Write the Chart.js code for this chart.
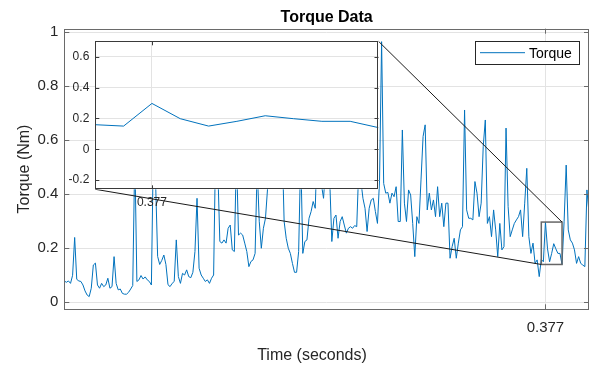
<!DOCTYPE html>
<html>
<head>
<meta charset="utf-8">
<script src="https://cdn.jsdelivr.net/npm/chart.js@4.4.0/dist/chart.umd.min.js"></script>
<style>
  body { margin: 0; background: #fff; }
  #wrap { position: relative; width: 590px; height: 369px; }
  #main { position: absolute; left: 0; top: 0; }
  #inset { position: absolute; left: 56px; top: 36px; }
</style>
</head>
<body>
<div id="wrap">
  <canvas id="main" width="590" height="369"></canvas>
  <canvas id="inset" width="326" height="175"></canvas>
</div>
<script>
// torque samples (Nm)
const torque = [
  0.079, 0.074, 0.079, 0.070, 0.100, 0.240, 0.085, 0.079, 0.077, 0.064,
  0.042, 0.027, 0.021, 0.052, 0.138, 0.145, 0.064, 0.052, 0.070, 0.058,
  0.064, 0.089, 0.052, 0.058, 0.169, 0.070, 0.046, 0.049, 0.033, 0.030,
  0.030, 0.037, 0.049, 0.062, 0.550, 0.077, 0.083, 0.099, 0.086, 0.094,
  0.083, 0.077, 0.064, 0.600, 0.450, 0.170, 0.140, 0.155, 0.175, 0.140,
  0.065, 0.058, 0.070, 0.077, 0.231, 0.095, 0.070, 0.107, 0.101, 0.120,
  0.095, 0.091, 0.111, 0.188, 0.385, 0.126, 0.101, 0.089, 0.077, 0.083,
  0.070, 0.089, 0.101, 0.600, 0.500, 0.225, 0.219, 0.231, 0.219, 0.274,
  0.286, 0.194, 0.188, 0.550, 0.249, 0.256, 0.249, 0.219, 0.188, 0.132,
  0.151, 0.157, 0.181, 0.500, 0.300, 0.200, 0.274, 0.311, 0.420, 0.440,
  0.450, 0.500, 0.550, 0.500, 0.450, 0.600, 0.299, 0.237, 0.200, 0.181,
  0.144, 0.111, 0.111, 0.188, 0.550, 0.181, 0.225, 0.231, 0.311, 0.336,
  0.373, 0.348, 0.600, 0.450, 0.435, 0.385, 0.500, 0.550, 0.450, 0.225,
  0.311, 0.323, 0.237, 0.299, 0.317, 0.286, 0.256, 0.274, 0.280, 0.274,
  0.284, 0.280, 0.500, 0.450, 0.385, 0.348, 0.262, 0.348, 0.379, 0.385,
  0.336, 0.292, 0.450, 0.965, 0.440, 0.404, 0.407, 0.367, 0.404, 0.391,
  0.428, 0.299, 0.299, 0.638, 0.367, 0.299, 0.416, 0.397, 0.292, 0.169,
  0.317, 0.292, 0.453, 0.614, 0.657, 0.342, 0.404, 0.342, 0.379, 0.317,
  0.428, 0.317, 0.367, 0.280, 0.367, 0.367, 0.163, 0.206, 0.237, 0.163,
  0.219, 0.268, 0.280, 0.712, 0.342, 0.311, 0.311, 0.305, 0.447, 0.404,
  0.317, 0.367, 0.577, 0.675, 0.292, 0.317, 0.243, 0.342, 0.268, 0.169,
  0.292, 0.194, 0.206, 0.645, 0.354, 0.243, 0.268, 0.292, 0.305, 0.317,
  0.342, 0.243, 0.367, 0.496, 0.243, 0.181, 0.219, 0.144, 0.157, 0.095,
  0.159, 0.150, 0.297, 0.198, 0.150, 0.181, 0.217, 0.198, 0.181, 0.181,
  0.140, 0.300, 0.508, 0.268, 0.231, 0.219, 0.194, 0.144, 0.169, 0.144,
  0.138, 0.132, 0.416, 0.330
];
const T_START = 0.145;   // s
const T_STEP = 0.001;    // s per sample
const zoomFrom = 230;    // first sample in the zoomed window
const zoomTo = 240;      // last sample in the zoomed window
const xTicks = [0.377];
const mainYTicks = [0, 0.2, 0.4, 0.6, 0.8, 1];
const insetYTicks = [-0.2, 0, 0.2, 0.4, 0.6];
const seriesName = "Torque";
const xLabel = "Time (seconds)";

const FONT = "'Liberation Sans', Arial, sans-serif";
const INK = "#262626";
const LINE = "#0072BD";
const GRID = "#e3e3e3";

const times = torque.map((_, i) => +(T_START + i * T_STEP).toFixed(3));
const points = torque.map((v, i) => ({ x: times[i], y: v }));
const zoomPoints = points.slice(zoomFrom, zoomTo + 1);
const zoomLo = Math.min(...zoomPoints.map(p => p.y));
const zoomHi = Math.max(...zoomPoints.map(p => p.y));

const fmtY = v => String(+v.toFixed(1));
const fixTicks = list => s => { s.ticks = list.map(v => ({ value: v })); };
// keep the plot box where it is, no extra room for edge labels
const fixWidth = w => s => { s.width = w; s.paddingTop = 0; s.paddingBottom = 0; };
const fixHeight = h => s => { s.height = h; s.paddingLeft = 0; s.paddingRight = 0; };

function boxAndTicks(chart, len, color) {
  const { ctx, chartArea: a, scales: { x, y } } = chart;
  ctx.save();
  ctx.strokeStyle = color;
  ctx.lineWidth = 1;
  ctx.beginPath();
  y.ticks.forEach(t => {
    const py = Math.round(y.getPixelForValue(t.value)) + 0.5;
    ctx.moveTo(a.left, py); ctx.lineTo(a.left + len, py);
    ctx.moveTo(a.right, py); ctx.lineTo(a.right - len, py);
  });
  x.ticks.forEach(t => {
    const px = Math.round(x.getPixelForValue(t.value)) + 0.5;
    ctx.moveTo(px, a.bottom); ctx.lineTo(px, a.bottom - len);
    ctx.moveTo(px, a.top); ctx.lineTo(px, a.top + len);
  });
  ctx.stroke();
  ctx.strokeRect(Math.round(a.left) + 0.5, Math.round(a.top) + 0.5,
    Math.round(a.right - a.left) - 1, Math.round(a.bottom - a.top) - 1);
  ctx.restore();
}

// ---- inset (zoomed window) ----
const insetCanvas = document.getElementById("inset");
const inset = new Chart(insetCanvas, {
  type: "line",
  data: { datasets: [{ data: zoomPoints, borderColor: LINE, borderWidth: 1, pointRadius: 0, tension: 0 }] },
  options: {
    responsive: false,
    animation: false,
    layout: { padding: { left: 0, top: 5.3, right: 3.5, bottom: 0 } },
    plugins: { legend: { display: false }, tooltip: { enabled: false } },
    scales: {
      x: {
        type: "linear", min: times[zoomFrom], max: times[zoomTo],
        afterBuildTicks: fixTicks(xTicks),
        afterFit: fixHeight(21.7),
        grid: { color: GRID, drawTicks: false },
        border: { display: false },
        ticks: { color: INK, padding: 6, font: { family: FONT, size: 12 }, callback: v => v.toFixed(3), maxRotation: 0 }
      },
      y: {
        min: -0.26, max: 0.70,
        afterBuildTicks: fixTicks(insetYTicks),
        afterFit: fixWidth(39.3),
        grid: { color: GRID, drawTicks: false },
        border: { display: false },
        ticks: { color: INK, padding: 6, font: { family: FONT, size: 12 }, callback: fmtY }
      }
    }
  },
  plugins: [{
    id: "insetFrame",
    beforeDraw(chart) {
      const { ctx, chartArea: a } = chart;
      ctx.save();
      ctx.fillStyle = "#fff";
      ctx.fillRect(a.left, a.top, a.right - a.left, a.bottom - a.top);
      ctx.restore();
    },
    afterDraw(chart) { boxAndTicks(chart, 4, "#3a3a3a"); }
  }]
});

// ---- main chart ----
const main = new Chart(document.getElementById("main"), {
  type: "line",
  data: { datasets: [{ label: seriesName, data: points, borderColor: LINE, borderWidth: 1, pointRadius: 0, tension: 0 }] },
  options: {
    responsive: false,
    animation: false,
    layout: { padding: { left: 0, top: 0, right: 1, bottom: 0 } },
    plugins: {
      legend: { display: false },
      tooltip: { enabled: false },
      title: {
        display: true, text: "Torque Data", fullSize: false, color: "#000",
        font: { family: FONT, size: 16, weight: "bold" },
        padding: { top: 7.6, bottom: 1.9 }
      }
    },
    scales: {
      x: {
        type: "linear", min: times[0], max: times[times.length - 1],
        afterBuildTicks: fixTicks(xTicks),
        afterFit: fixHeight(59.7),
        grid: { color: GRID, drawTicks: false },
        border: { display: false },
        ticks: { color: INK, padding: 10, font: { family: FONT, size: 15 }, callback: v => v.toFixed(3), maxRotation: 0 }
      },
      y: {
        min: -0.026, max: 1.013,
        afterBuildTicks: fixTicks(mainYTicks),
        afterFit: fixWidth(64.3),
        grid: { color: GRID, drawTicks: false },
        border: { display: false },
        ticks: { color: INK, padding: 6, font: { family: FONT, size: 15 }, callback: fmtY },
        title: { display: true, text: "Torque (Nm)", color: INK, font: { family: FONT, size: 16 }, padding: { top: 15.4, bottom: 0 } }
      }
    }
  },
  plugins: [{
    id: "zoomAnnotations",
    afterDraw(chart) {
      const { ctx, chartArea: a, scales: { x, y } } = chart;
      boxAndTicks(chart, 5, "#6a6a6a");

      // x label sits a little left of the axes centre in the original
      ctx.save();
      ctx.fillStyle = INK;
      ctx.font = "16px " + FONT;
      ctx.textAlign = "center";
      ctx.textBaseline = "middle";
      ctx.fillText(xLabel, 312, 356);
      ctx.restore();

      // zoom rectangle on the main axes
      const rx0 = x.getPixelForValue(times[zoomFrom]);
      const rx1 = x.getPixelForValue(times[zoomTo]);
      const ry0 = y.getPixelForValue(zoomHi);
      const ry1 = y.getPixelForValue(zoomLo);
      ctx.save();
      ctx.strokeStyle = "#666";
      ctx.lineWidth = 1.5;
      ctx.strokeRect(rx0, ry0, rx1 - rx0, ry1 - ry0);

      // connectors to the inset corners
      const ia = inset.chartArea;
      const ox = insetCanvas.offsetLeft, oy = insetCanvas.offsetTop;
      ctx.strokeStyle = "#1a1a1a";
      ctx.lineWidth = 1;
      ctx.beginPath();
      ctx.moveTo(ox + ia.right, oy + ia.top); ctx.lineTo(rx1, ry0);
      ctx.moveTo(ox + ia.left, oy + ia.bottom); ctx.lineTo(rx0, ry1);
      ctx.stroke();

      // legend box
      const lw = 104, lh = 23;
      const lx = a.right - 10 - lw, ly = a.top + 12.5;
      ctx.fillStyle = "#fff";
      ctx.fillRect(lx, ly, lw, lh);
      ctx.strokeStyle = "#262626";
      ctx.strokeRect(Math.round(lx) + 0.5, Math.round(ly) + 0.5, lw, lh);
      ctx.strokeStyle = LINE;
      ctx.beginPath();
      ctx.moveTo(lx + 5, ly + lh / 2); ctx.lineTo(lx + 50, ly + lh / 2);
      ctx.stroke();
      ctx.fillStyle = "#000";
      ctx.font = "14px " + FONT;
      ctx.textBaseline = "middle";
      ctx.fillText(chart.data.datasets[0].label, lx + 54, ly + lh / 2 + 1);
      ctx.restore();
    }
  }]
});
</script>
</body>
</html>
